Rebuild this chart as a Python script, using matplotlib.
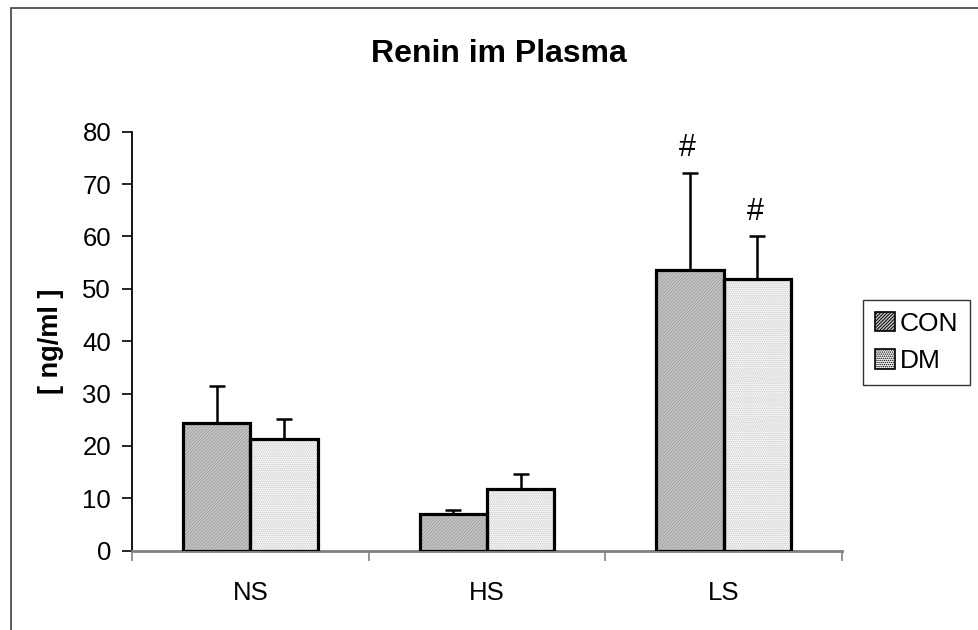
import matplotlib
matplotlib.use("Agg")
import matplotlib.pyplot as plt
from matplotlib.patches import Rectangle
import numpy as np

plt.rcParams['font.family'] = ['Liberation Sans', 'DejaVu Sans']
plt.rcParams['hatch.linewidth'] = 0.7

# data
groups = ["NS", "HS", "LS"]
series = ["CON", "DM"]
con_mean = [24.4, 7.0, 53.5]
con_sem = [7.1, 0.7, 18.7]
dm_mean = [21.3, 11.8, 51.9]
dm_sem = [3.8, 2.9, 8.2]
marks = [["", "", "#"], ["", "", "#"]]  # significance signs per series/group

fig = plt.figure(figsize=(9.79, 6.3), dpi=100)
ax = fig.add_axes([132 / 979, 1 - 550.7 / 630, 710 / 979, 419 / 630])

x = np.arange(len(groups))
w = 0.284
styles = [
    dict(face="#c6c6c6", hatch="//////////", hcol="#a2a2a2"),
    dict(face="#f6f6f6", hatch="........", hcol="#c8c8c8"),
]
means = [con_mean, dm_mean]
sems = [con_sem, dm_sem]
offsets = [-w / 2, w / 2]

handles = []
for k in range(2):
    st = styles[k]
    pos = x + offsets[k]
    # hatch layer (hatch takes the edge colour, so draw it apart from the black edge)
    ax.bar(pos, means[k], w, color=st["face"], hatch=st["hatch"],
           edgecolor=st["hcol"], linewidth=0, zorder=2)
    ax.bar(pos, means[k], w, fill=False, edgecolor="black", linewidth=2.3, zorder=3)
    ax.errorbar(pos, means[k], yerr=[np.zeros(len(groups)), sems[k]], fmt="none",
                ecolor="black", elinewidth=1.8, capsize=5.5, capthick=1.8, zorder=1)
    for i in range(len(groups)):
        if marks[k][i]:
            ax.text(pos[i] - 0.01, means[k][i] + sems[k][i] + 4.6, marks[k][i],
                    ha="center", va="center", fontsize=22)
    handles.append(Rectangle((0, 0), 1, 1, facecolor=st["face"], hatch=st["hatch"],
                             edgecolor="black", linewidth=1.2))

ax.set_xlim(-0.5, 2.5)
ax.set_ylim(0, 80)
ax.set_yticks(np.arange(0, 81, 10))
ax.set_xticks([-0.5, 0.5, 1.5, 2.5])
ax.set_xticklabels([])
ax.set_xticks(x, minor=True)
ax.set_xticklabels(groups, minor=True)
ax.tick_params(axis="x", which="minor", length=0, pad=22, labelsize=18.5)
ax.tick_params(axis="x", which="major", direction="out", length=7, width=1.2, color="#808080")
ax.tick_params(axis="y", direction="out", length=7, width=1.2, labelsize=18.5, pad=8)
for s in ["top", "right"]:
    ax.spines[s].set_visible(False)
ax.spines["left"].set_linewidth(1.3)
ax.spines["bottom"].set_color("#808080")
ax.spines["bottom"].set_linewidth(2)

ax.set_ylabel("[ ng/ml ]", fontsize=19.5, fontweight="bold", labelpad=13)
fig.text(499 / 979, 1 - 54 / 630, "Renin im Plasma", ha="center", va="center",
         fontsize=23, fontweight="bold")

leg = fig.legend(handles, series, loc="upper left", bbox_to_anchor=(863 / 979, 1 - 300 / 630),
                 fontsize=19, frameon=True, fancybox=False, handlelength=0.75,
                 handleheight=0.75, handletextpad=0.2, borderpad=0.45, labelspacing=0.5,
                 borderaxespad=0)
leg.get_frame().set_edgecolor("black")
leg.get_frame().set_linewidth(1.0)

# outer chart frame
fig.patches.append(Rectangle((11 / 979, -0.1), 1.2, 1 - 8 / 630 + 0.1, transform=fig.transFigure,
                             fill=False, edgecolor="#404040", linewidth=1.2, zorder=0))

fig.savefig("out.png", dpi=100)
